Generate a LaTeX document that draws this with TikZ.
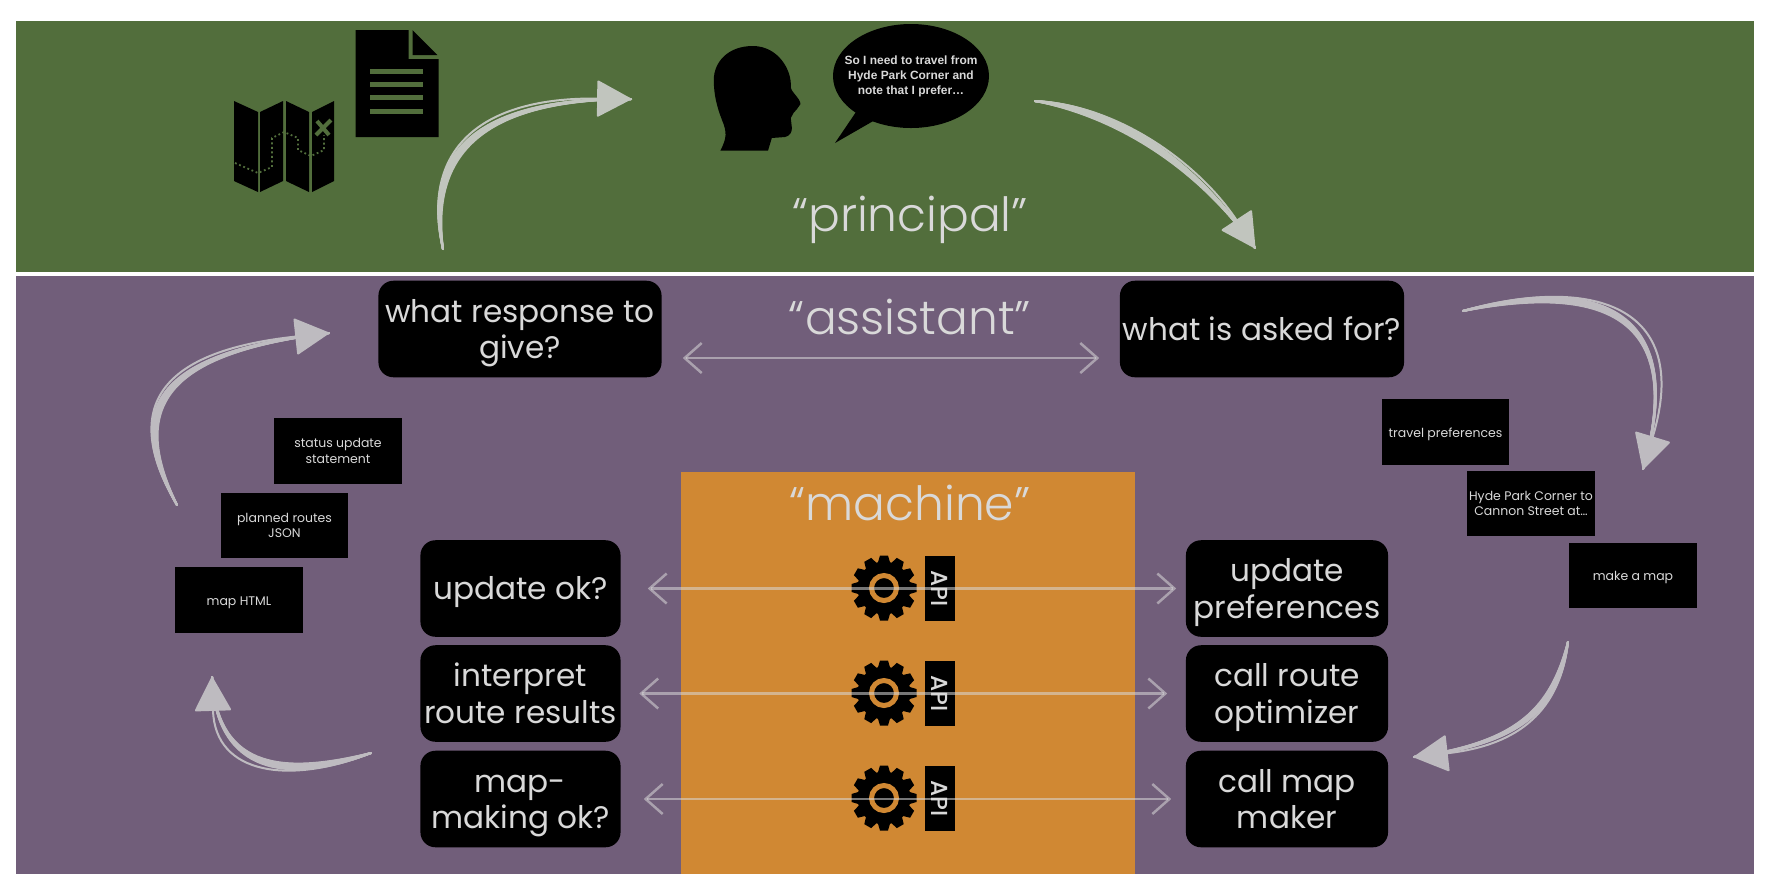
\documentclass[tikz,border=0pt]{standalone}
\usepackage{fontspec}
\setmainfont{Poppins}
\newfontfamily\titlefont{Poppins Light}
\newfontfamily\apifont{Poppins Medium}
\newfontfamily\bubblefont{Liberation Sans}
\usetikzlibrary{arrows.meta}
\definecolor{bandgreen}{RGB}{82,110,60}
\definecolor{bandpurple}{RGB}{113,94,122}
\definecolor{boxorange}{RGB}{208,136,51}
\definecolor{chalk}{RGB}{217,217,217}
\definecolor{swooshgrey}{RGB}{190,187,192}
\definecolor{swooshpale}{RGB}{193,197,190}
\begin{document}
\begin{tikzpicture}[x=0.01cm,y=-0.01cm]
\tikzset{
  bigbox/.style={fill=black, text=chalk, rounded corners=0.15cm, minimum height=0.965cm, inner sep=0pt, align=center, font=\fontsize{8.85}{10.4}\selectfont,
    execute at begin node={\rule{0pt}{9.3pt}}, execute at end node={\rule[-2.9pt]{0pt}{0pt}}},
  bigboxtwo/.style={bigbox, text height=21.3pt, text depth=4.46pt},
  smallbox/.style={fill=black, text=chalk, minimum width=1.27cm, minimum height=0.65cm, inner sep=0pt, align=center, font=\fontsize{3.55}{4.3}\selectfont,
    execute at begin node={\rule{0pt}{4.05pt}}, execute at end node={\rule[-1.2pt]{0pt}{0pt}}},
  smallboxtwo/.style={smallbox, text height=9pt, text depth=2.12pt},
  apibox/.style={fill=black, text=chalk, minimum width=0.65cm, minimum height=0.3cm, inner sep=0pt, rotate=-90, font=\apifont\fontsize{6.6}{7}\selectfont},
  title/.style={text=chalk, inner sep=0pt, font=\titlefont\fontsize{13.4}{15}\selectfont},
  saying/.style={text=chalk, inner sep=0pt, align=center, font=\bubblefont\bfseries\fontsize{3.4}{4.25}\selectfont},
  swooshbody/.style={draw=#1, line width=0.02cm, line cap=round},
  swoosh/.style={swooshbody=#1, -{Triangle[round, length=0.35cm, width=0.37cm]}},
  apiline/.style={draw=chalk, draw opacity=0.55, line width=0.025cm, {Straight Barb[length=0.17cm,width=0.3cm]}-{Straight Barb[length=0.17cm,width=0.3cm]}},
}
\useasboundingbox (0,0) rectangle (1768,890);
\fill[bandgreen] (16,20.5) rectangle (1754,272);
\fill[bandpurple] (16,276) rectangle (1754,874);
\fill[boxorange] (681,472) rectangle (1135,874);
% map
\fill[black] (234,101) -- (258,112) -- (258,192) -- (234,181) -- cycle;
\fill[black] (260,112) -- (283,101) -- (283,181) -- (260,192) -- cycle;
\fill[black] (286,101) -- (309,112) -- (309,192) -- (286,181) -- cycle;
\fill[black] (312,112) -- (334,101) -- (334,181) -- (312,192) -- cycle;
\draw[bandgreen, line width=0.018cm, dash pattern=on 0.018cm off 0.027cm] (235,163) -- (258,173) -- (272,167) -- (272,138) -- (284,132) -- (298,138) -- (298,150) -- (311,156) -- (324,150) -- (324,135);
\draw[bandgreen, line width=0.04cm] (317,121) -- (329,135) (331,120) -- (316,135);
% document
\fill[black] (355.5,30) -- (408.7,30) -- (408.7,59) -- (438.5,59) -- (438.5,137) -- (355.5,137) -- cycle;
\fill[black] (412.5,30) -- (437.4,55) -- (412.5,55) -- cycle;
\foreach \liney in {69,82,95,109}
  \fill[bandgreen] (370,\liney) rectangle (423,\liney+5);
% head
\fill[black] (752.8,46) .. controls (728,46) and (713.8,62) .. (713.8,80) .. controls (713.8,95) and (717,107) .. (722,120) .. controls (727,132) and (727,138) .. (720.3,150.7) -- (768,150.7) -- (771.8,138) -- (785,137) .. controls (790,136) and (792,132) .. (791.9,128) -- (790.8,118) -- (793.5,113) -- (797,109) -- (800.5,104) .. controls (800,98) and (791,92) .. (790.8,87) .. controls (792,70) and (778,46) .. (752.8,46) -- cycle;
% bubble
\fill[black] (911,76) ellipse (78 and 52);
\fill[black] (856,112) -- (835,143) -- (875,120) -- cycle;
\node[saying] (speech) at (911,76) {So I need to travel from\\Hyde Park Corner and\\note that I prefer\dots};
% titles
\node[title] (principal) at (910,220) {“principal”};
\node[title] (assistant) at (910,317) {“assistant”};
\node[title] (machine) at (910,503) {“machine”};
% question boxes
\node[bigboxtwo, minimum width=2.83cm] (respq) at (520,329) {what response to\\give?};
\node[bigbox, minimum width=2.84cm] (askq) at (1262,329) {what is asked for?};
\node[bigbox, minimum width=2cm] (updok) at (520.5,588.5) {update ok?};
\node[bigboxtwo, minimum width=2cm] (routeres) at (520.5,693.5) {interpret\\route results};
\node[bigboxtwo, minimum width=2cm] (mapok) at (520.5,799) {map-\\making ok?};
\node[bigboxtwo, minimum width=2.02cm] (updpref) at (1287,588.5) {update\\preferences};
\node[bigboxtwo, minimum width=2.02cm] (callroute) at (1287,693.5) {call route\\optimizer};
\node[bigboxtwo, minimum width=2.02cm] (callmap) at (1287,799) {call map\\maker};
% paper slips
\node[smallboxtwo] (status) at (338,451) {status update\\statement};
\node[smallboxtwo] (planned) at (284.5,525.5) {planned routes\\JSON};
\node[smallbox] (maphtml) at (239,600) {map HTML};
\node[smallbox] (travel) at (1445.5,432) {travel preferences};
\node[smallboxtwo] (hyde) at (1531,503.5) {Hyde Park Corner to\\Cannon Street at\dots};
\node[smallbox] (makemap) at (1633,575.5) {make a map};
% gears and API tabs
\foreach \rowy/\apiname in {588/apia,693/apib,798/apic} {
  \fill[black] (884,\rowy) circle (26.5);
  \foreach \a in {0,30,...,330}
    \fill[black, shift={(884,\rowy)}, rotate=\a] (-6.5,-24) -- (-4,-32.5) -- (4,-32.5) -- (6.5,-24) -- cycle;
  \draw[boxorange, line width=0.05cm] (884,\rowy) circle (12.5);
  \node[apibox] (\apiname) at (940,\rowy+0.5) {API};
}
% two way lines
\draw[apiline, shorten <=0.205cm, shorten >=0.2cm] ([yshift=-0.29cm]respq.east) -- ([yshift=-0.29cm]askq.west);
\draw[apiline, shorten <=0.265cm, shorten >=0.09cm] (updok) -- (updpref);
\draw[apiline, shorten <=0.18cm, shorten >=0.18cm] (routeres) -- (callroute);
\draw[apiline, shorten <=0.225cm, shorten >=0.14cm] (mapok) -- (callmap);
% big arrows
\coordinate (sa) at (443,249);
\coordinate (ea) at (631,99);
\coordinate (sb) at (1035,101);
\coordinate (eb) at (1255,248);
\coordinate (sc) at (1463,311);
\coordinate (ec) at (1643,469);
\coordinate (sd) at (1568,642);
\coordinate (ed) at (1414,757);
\coordinate (se) at (371,753);
\coordinate (ee) at (212,677);
\coordinate (sf) at (177,505);
\coordinate (ef) at (329,333);
\foreach \k in {0,0.5,...,5} {
  \draw[swooshbody=swooshpale] (sa) .. controls ({420+2.2*\k},{150+1.2*\k}) and (480,{97+0.6*\k}) .. (ea);
  \draw[swooshbody=swooshpale] (sb) .. controls ({1120-0.6*\k},{105+2.4*\k}) and ({1200-0.4*\k},{165+0.6*\k}) .. (eb);
  \draw[swooshbody=swooshgrey] (sc) .. controls ({1590-0.4*\k},{275+2.4*\k}) and ({1693-0.6*\k},{304+0.2*\k}) .. (ec);
  \draw[swooshbody=swooshgrey] (sd) .. controls ({1560-2*\k},{710-0.4*\k}) and ({1520-0.2*\k},{745-0.6*\k}) .. (ed);
  \draw[swooshbody=swooshgrey] (se) .. controls ({290-0.4*\k},{785-2.4*\k}) and ({215+0.6*\k},{775-0.4*\k}) .. (ee);
  \draw[swooshbody=swooshgrey] (sf) .. controls ({115+2.4*\k},{400+0.4*\k}) and ({170+0.4*\k},{350+0.6*\k}) .. (ef);
}
\draw[swoosh=swooshpale] (sa) .. controls (420,150) and (480,97) .. (ea);
\draw[swoosh=swooshpale] (sb) .. controls (1120,105) and (1200,165) .. (eb);
\draw[swoosh=swooshgrey] (sc) .. controls (1590,275) and (1693,304) .. (ec);
\draw[swoosh=swooshgrey] (sd) .. controls (1560,710) and (1520,745) .. (ed);
\draw[swoosh=swooshgrey] (se) .. controls (290,785) and (215,775) .. (ee);
\draw[swoosh=swooshgrey] (sf) .. controls (115,400) and (170,350) .. (ef);
\end{tikzpicture}
\end{document}
